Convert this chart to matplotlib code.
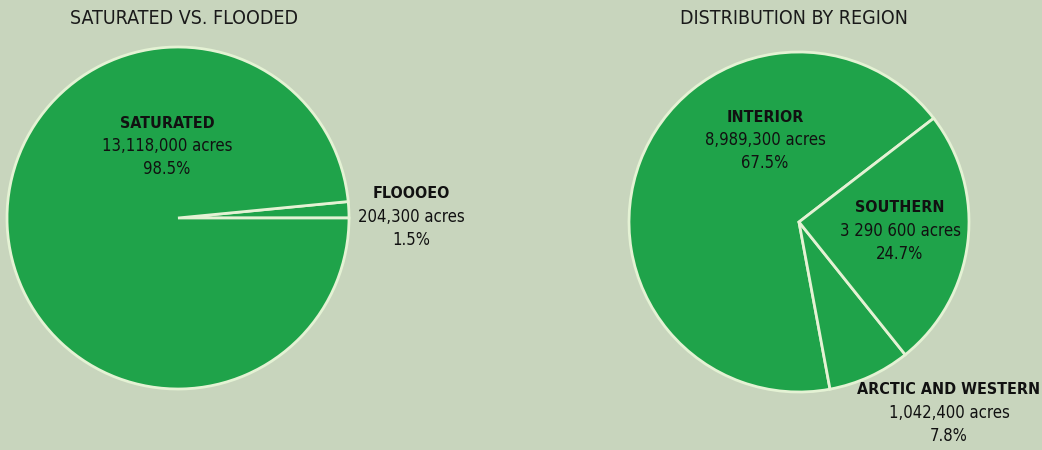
import matplotlib
matplotlib.use("Agg")
import matplotlib.pyplot as plt

# data
floodLabels = ["FLOOOEO", "SATURATED"]
floodAcres = [204300, 13118000]
floodAcreText = ["204,300 acres", "13,118,000 acres"]
floodPct = ["1.5%", "98.5%"]

regionLabels = ["INTERIOR", "ARCTIC AND WESTERN", "SOUTHERN"]
regionAcres = [8989300, 1042400, 3290600]
regionAcreText = ["8,989,300 acres", "1,042,400 acres", "3 290 600 acres"]
regionPct = ["67.5%", "7.8%", "24.7%"]

bgColor = "#c8d5bd"
pieColor = "#1fa34a"
edgeColor = "#e4f2d4"
fontName = ["DejaVu Sans"]

fig = plt.figure(figsize=(10.42, 4.5), dpi=100)
fig.patch.set_facecolor(bgColor)
ax = fig.add_axes([0, 0, 1, 1])

H = 450

# left pie: saturated vs flooded
ax.pie(floodAcres, center=(178, H - 218), radius=171, startangle=0,
       colors=[pieColor] * 2, frame=True,
       wedgeprops={"edgecolor": edgeColor, "linewidth": 2})

# right pie: by region
ax.pie(regionAcres, center=(799, H - 222), radius=170, startangle=37.6,
       colors=[pieColor] * 3, frame=True,
       wedgeprops={"edgecolor": edgeColor, "linewidth": 2})
ax.set_xlim(0, 1042)
ax.set_ylim(0, 450)
ax.set_aspect("equal")
ax.axis("off")

# titles
ax.text(184, H - 19, "SATURATED VS. FLOODED", ha="center", va="center",
        fontsize=14, family=fontName, fontstretch="condensed", color="#1a1a1a")
ax.text(794, H - 19, "DISTRIBUTION BY REGION", ha="center", va="center",
        fontsize=14, family=fontName, fontstretch="condensed", color="#1a1a1a")


def drawLabel(x, y, name, acres, pct):
    ax.text(x, H - y, name, ha="center", va="center", fontsize=11.5,
            fontweight="bold", family=fontName, fontstretch="condensed",
            color="#111111")
    ax.text(x, H - y - 23, acres, ha="center", va="center", fontsize=12,
            family=fontName, fontstretch="condensed", color="#111111")
    ax.text(x, H - y - 46, pct, ha="center", va="center", fontsize=12,
            family=fontName, fontstretch="condensed", color="#111111")


floodPos = [(411, 194), (167, 123)]
for i in range(len(floodLabels)):
    drawLabel(floodPos[i][0], floodPos[i][1], floodLabels[i],
              floodAcreText[i], floodPct[i])

regionPos = [(765, 117), (949, 390), (900, 208)]
for i in range(len(regionLabels)):
    drawLabel(regionPos[i][0], regionPos[i][1], regionLabels[i],
              regionAcreText[i], regionPct[i])

fig.savefig("out.png", dpi=100, facecolor=bgColor)
